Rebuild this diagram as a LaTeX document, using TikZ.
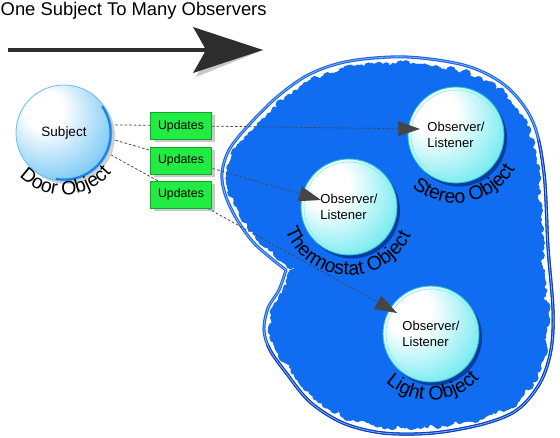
\documentclass[tikz,border=0pt]{standalone}
\usepackage{fontspec}
\setmainfont{Liberation Sans}
\usetikzlibrary{arrows.meta,shadows,decorations.text,calc}
\definecolor{blobblue}{RGB}{16,108,240}
\definecolor{rimblue}{RGB}{28,98,228}
\definecolor{rimdark}{RGB}{12,58,188}
\definecolor{rimlight}{RGB}{120,180,255}
\definecolor{obsA}{RGB}{125,236,242}
\definecolor{obsB}{RGB}{50,214,228}
\definecolor{obsrim}{RGB}{45,192,204}
\definecolor{obsring}{RGB}{130,236,238}
\definecolor{subjA}{RGB}{125,202,245}
\definecolor{subjB}{RGB}{45,162,236}
\definecolor{subjrim}{RGB}{100,188,240}
\definecolor{subjedge}{RGB}{30,130,228}
\definecolor{updgreen}{RGB}{34,236,68}
\definecolor{updborder}{RGB}{20,165,45}
\definecolor{connc}{RGB}{70,70,70}
\definecolor{arrowc}{RGB}{45,45,45}
\pgfdeclareradialshading{obsshade}{\pgfpoint{-14bp}{14bp}}{color(0bp)=(white); color(12bp)=(white); color(34bp)=(obsA); color(56bp)=(obsB); color(75bp)=(obsB)}
\pgfdeclareradialshading{subjshade}{\pgfpoint{-12bp}{14bp}}{color(0bp)=(white); color(10bp)=(white); color(34bp)=(subjA); color(58bp)=(subjB); color(75bp)=(subjB)}
\newcommand\ttlfont{\fontsize{18.4}{22}\selectfont}
\newcommand\obsfont{\fontsize{13}{15.5}\selectfont}
\newcommand\subjfont{\fontsize{13.5}{16}\selectfont}
\newcommand\updfont{\fontsize{12.3}{14}\selectfont}
\newcommand\lblfont{\fontsize{19.5}{20}\selectfont}
\begin{document}
\begin{tikzpicture}[x=1pt,y=1pt,
  obsnode/.style={circle, minimum size=96pt, inner sep=0pt, shading=obsshade,
    draw=obsrim, line width=0.9pt, font=\obsfont, align=left,
    drop shadow={opacity=0.45, shadow xshift=3pt, shadow yshift=-3.5pt, fill=black!75!blue}},
  subjnode/.style={circle, minimum size=96pt, inner sep=0pt, outer sep=4pt, shading=subjshade,
    draw=subjrim, line width=0.8pt, font=\subjfont,
    drop shadow={opacity=0.3, shadow xshift=3pt, shadow yshift=-3pt, fill=black!60}},
  updbox/.style={rectangle, minimum width=61pt, minimum height=27pt, inner sep=0pt,
    fill=updgreen, draw=updborder, line width=0.8pt, font=\updfont,
    drop shadow={opacity=0.35, shadow xshift=3pt, shadow yshift=-3pt, fill=black!60}},
  conn/.style={draw=connc, line width=0.75pt, dash pattern=on 2.6pt off 2pt,
    -{Triangle[length=22pt,width=15pt]}},
  curvelbl/.style={decorate, decoration={text along path, text align=center, text={|\lblfont|#1}}}
]
\fill[white] (0,0) rectangle (560,-438);
\useasboundingbox (0,0) rectangle (560,-438);

% ---- blob ----
\def\blobpath{plot[smooth, tension=0.55] coordinates {(286,-270) (272,-259) (253,-242) (236,-218) (225,-194) (222,-173) (229,-150) (247,-127) (277,-97) (310,-74) (350,-61) (407,-57) (467,-66) (507,-87) (533,-122) (544,-173) (548,-247) (553,-310) (551,-350) (540,-383) (517,-410) (483,-424) (433,-433) (383,-433) (343,-423) (310,-402) (287,-374) (270,-350) (264,-330) (268,-308) (279,-290) (286,-270)}}
\fill[blobblue] \blobpath -- cycle;
\draw[white, line width=16pt, line join=round] \blobpath -- cycle;
\foreach \px/\py [count=\i] in {286/-270,272/-259,253/-242,236/-218,225/-194,222/-173,229/-150,247/-127,277/-97,310/-74,350/-61,407/-57,467/-66,507/-87,533/-122,544/-173,548/-247,553/-310,551/-350,540/-383,517/-410,483/-424,433/-433,383/-433,343/-423,310/-402,287/-374,270/-350,264/-330,268/-308,279/-290,286/-270}
  \coordinate (b\i) at (\px,\py);
\pgfmathsetseed{7}
\foreach \i [evaluate=\i as \j using int(\i+1)] in {1,...,31} {
  \foreach \t in {0,0.0625,...,0.94} {
    \pgfmathsetmacro\bumpr{1.6+3.8*rnd}
    \pgfmathsetmacro\bumpd{7.2+5*rnd*rnd}
    \fill[blobblue] ($(b\i)!\t!(b\j)!\bumpd pt!-90:(b\j)$) circle[radius=\bumpr pt];
  }
}
\draw[rimblue, line width=3pt, line join=round] \blobpath -- cycle;
\begin{scope}
  \clip (520,-140) -- (560,-140) -- (560,-438) -- (250,-438) -- (250,-345) -- (520,-345) -- cycle;
  \draw[rimdark, line width=3pt, line join=round] \blobpath -- cycle;
\end{scope}
\draw[rimlight, line width=0.8pt, line join=round] \blobpath -- cycle;

% ---- circles ----
\node[subjnode] (subj) at (64,-133) {Subject};
\draw[subjedge, line width=2.2pt, shift={(subj.center)}] (-100:46.6pt) arc[start angle=-100, end angle=35, radius=46.6pt];
\node[obsnode] (stereo) at (456,-135) {Observer/\\Listener};
\node[obsnode] (thermo) at (349,-207) {Observer/\\Listener};
\node[obsnode] (light) at (431,-334) {Observer/\\Listener};
\foreach \n in {stereo,thermo,light}
  \draw[obsring, line width=0.6pt] (\n.center) circle[radius=45pt];

% ---- curved labels ----
\path[shift={(subj.center)}, curvelbl={Door Object}] (187:62pt) arc[start angle=187, end angle=357, radius=62pt];
\path[shift={(stereo.center)}, curvelbl={Stereo Object}] (195:68pt) arc[start angle=195, end angle=365, radius=68pt];
\path[shift={(thermo.center)}, curvelbl={Thermostat Object}] (183:68pt) arc[start angle=183, end angle=353, radius=68pt];
\path[shift={(light.center)}, curvelbl={Light Object}] (187:66pt) arc[start angle=187, end angle=357, radius=66pt];

% ---- connectors ----
\coordinate (tipS) at (420,-129);
\coordinate (tipT) at (321,-200);
\coordinate (tipL) at (397,-313);
\draw[conn] (subj.9) -- (tipS);
\draw[conn] (subj.-8) -- (tipT);
\draw[conn] (subj.-25) -- (tipL);

% ---- update boxes ----
\node[updbox] (u1) at (181,-126) {Updates};
\node[updbox] (u2) at (181,-160.5) {Updates};
\node[updbox] (u3) at (181,-194.5) {Updates};

% ---- title and big arrow ----
\node[anchor=base west, inner sep=0pt, font=\ttlfont] (title) at (0.5,-15.5) {One Subject To Many Observers};
\coordinate (arrS) at (8,-50);
\coordinate (arrE) at (263,-50);
\begin{scope}[shift={(3pt,-4pt)}, black, opacity=0.22]
  \draw[line width=4.5pt] (arrS) -- ++(198,0);
  \fill (arrE) -- (193,-27) .. controls (201,-41) .. (206,-50) .. controls (201,-59) .. (193,-73) -- cycle;
\end{scope}
\draw[arrowc, line width=4.5pt] (arrS) -- ++(198,0);
\fill[arrowc] (arrE) -- (193,-27) .. controls (201,-41) .. (206,-50) .. controls (201,-59) .. (193,-73) -- cycle;
\end{tikzpicture}
\end{document}
